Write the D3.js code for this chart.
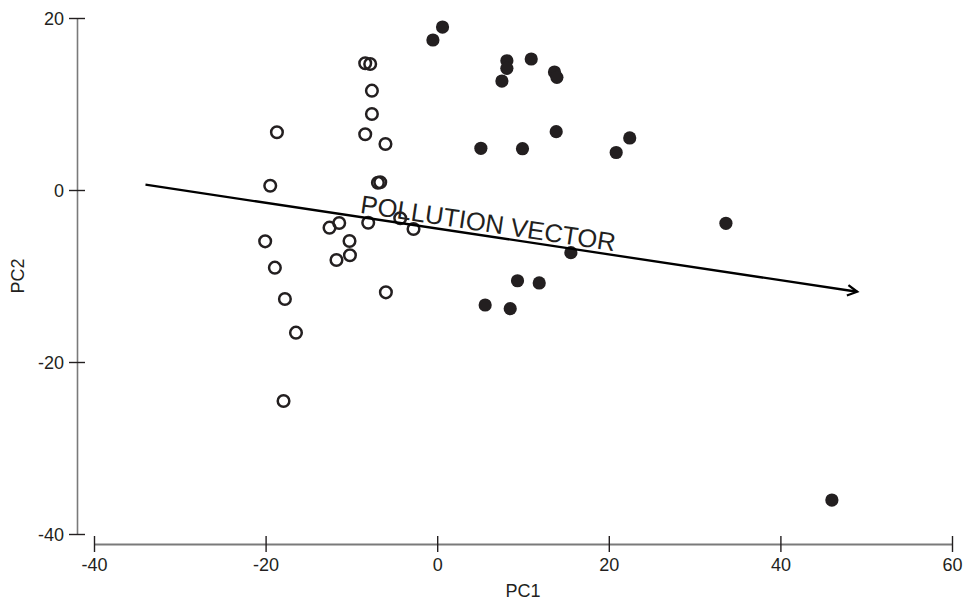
<!DOCTYPE html>
<html>
<head>
<meta charset="utf-8">
<script src="https://cdn.jsdelivr.net/npm/d3@7"></script>
<style>
  html, body { margin: 0; padding: 0; background: #fff; }
  svg { display: block; font-family: "Liberation Sans", Arial, sans-serif; }
</style>
</head>
<body>
<svg id="chart" width="966" height="605"></svg>
<script>
// ---- data (PC1, PC2) ----
const openPC1 = [-8.39, -7.81, -7.61, -7.61, -8.39, -6.03, -18.68, -19.46, -6.91, -6.64, -8.04, -12.55,
                 -11.42, -10.22, -10.17, -11.74, -20.05, -18.92, -17.75, -16.46, -5.98, -4.31, -2.76, -17.91];
const openPC2 = [14.73, 14.65, 11.55, 8.84, 6.48, 5.35, 6.71, 0.50, 0.85, 0.90, -3.80, -4.38,
                 -3.84, -5.93, -7.59, -8.14, -5.97, -9.03, -12.67, -16.59, -11.90, -3.29, -4.53, -24.53];
const filledPC1 = [0.62, -0.50, 8.12, 8.12, 10.96, 13.67, 13.95, 7.54, 13.87, 5.09, 9.94, 20.86, 22.44,
                   15.58, 9.36, 11.89, 5.59, 8.51, 33.65, 46.0];
const filledPC2 = [18.95, 17.44, 15.03, 14.15, 15.23, 13.72, 13.10, 12.67, 6.78, 4.85, 4.80, 4.36, 6.05,
                   -7.29, -10.55, -10.81, -13.37, -13.80, -3.87, -36.05];
const vectorStart = [-34.0, 0.62];
const vectorEnd = [48.95, -11.83];
const vectorLabel = "POLLUTION VECTOR";
const xTicks = [-40, -20, 0, 20, 40, 60];
const yTicks = [-40, -20, 0, 20];
const xTitle = "PC1";
const yTitle = "PC2";

// ---- layout ----
const svg = d3.select("#chart");
const ink = "#231f20";
const x = d3.scaleLinear().domain([-40, 60]).range([94, 952]);
const y = d3.scaleLinear().domain([-40, 20]).range([534, 18]);
const xAxisY = 544, yAxisX = 77;
const fmt = d => String(d);

// Y axis
const gy = svg.append("g").attr("transform", `translate(${yAxisX},0)`)
  .call(d3.axisLeft(y).tickValues(yTicks).tickSizeInner(0).tickSizeOuter(0).tickFormat(fmt));
gy.select(".domain").attr("stroke", "#7a7a7a").attr("stroke-width", 1.6);
gy.selectAll(".tick line").attr("x1", -8).attr("x2", 8).attr("stroke", ink).attr("stroke-width", 1.4);
gy.selectAll(".tick text").attr("x", -13).attr("dy", "0.34em")
  .attr("font-size", 18).attr("fill", ink).attr("font-family", "Liberation Sans, Arial, sans-serif");

// X axis
const gx = svg.append("g").attr("transform", `translate(0,${xAxisY})`)
  .call(d3.axisBottom(x).tickValues(xTicks).tickSizeInner(0).tickSizeOuter(0).tickFormat(fmt));
gx.select(".domain").attr("stroke", "#7a7a7a").attr("stroke-width", 2.2);
gx.selectAll(".tick line").attr("y1", -8).attr("y2", 8).attr("stroke", ink).attr("stroke-width", 1.4);
gx.selectAll(".tick text").attr("y", 14).attr("dy", "0.71em")
  .attr("font-size", 18).attr("fill", ink).attr("font-family", "Liberation Sans, Arial, sans-serif");

// Axis titles
svg.append("text").attr("x", (x.range()[0] + x.range()[1]) / 2).attr("y", 597)
  .attr("text-anchor", "middle").attr("font-size", 18).attr("fill", ink).text(xTitle);
svg.append("text").attr("transform", `translate(24,${(y.range()[0] + y.range()[1]) / 2}) rotate(-90)`)
  .attr("text-anchor", "middle").attr("font-size", 18).attr("fill", ink).text(yTitle);

// Open circles
const openData = openPC1.map((v, i) => [v, openPC2[i]]);
svg.append("g").selectAll("circle").data(openData).join("circle")
  .attr("cx", d => x(d[0])).attr("cy", d => y(d[1])).attr("r", 5.8)
  .attr("fill", "none").attr("stroke", ink).attr("stroke-width", 2.5);

// Filled circles
const filledData = filledPC1.map((v, i) => [v, filledPC2[i]]);
svg.append("g").selectAll("circle").data(filledData).join("circle")
  .attr("cx", d => x(d[0])).attr("cy", d => y(d[1])).attr("r", 6.6)
  .attr("fill", ink);

// Vector arrow
const x1 = x(vectorStart[0]), y1 = y(vectorStart[1]);
const x2 = x(vectorEnd[0]), y2 = y(vectorEnd[1]);
const ang = Math.atan2(y2 - y1, x2 - x1);
const va = svg.append("g");
va.append("line").attr("x1", x1).attr("y1", y1).attr("x2", x2).attr("y2", y2)
  .attr("stroke", "#000").attr("stroke-width", 2.3);
const headLen = 11, headAng = 0.5;
const hp = [
  [x2 - headLen * Math.cos(ang - headAng), y2 - headLen * Math.sin(ang - headAng)],
  [x2, y2],
  [x2 - headLen * Math.cos(ang + headAng), y2 - headLen * Math.sin(ang + headAng)]
];
va.append("path").attr("d", d3.line()(hp)).attr("fill", "none")
  .attr("stroke", "#000").attr("stroke-width", 2.3).attr("stroke-linejoin", "miter");

// Label along the vector
const t = 0.30;
const lx = x1 + t * (x2 - x1), ly = y1 + t * (y2 - y1);
const deg = ang * 180 / Math.PI;
va.append("text")
  .attr("transform", `translate(${lx},${ly}) rotate(${deg}) translate(0,-4)`)
  .attr("font-size", 25.5).attr("fill", ink)
  .text(vectorLabel);
</script>
</body>
</html>
